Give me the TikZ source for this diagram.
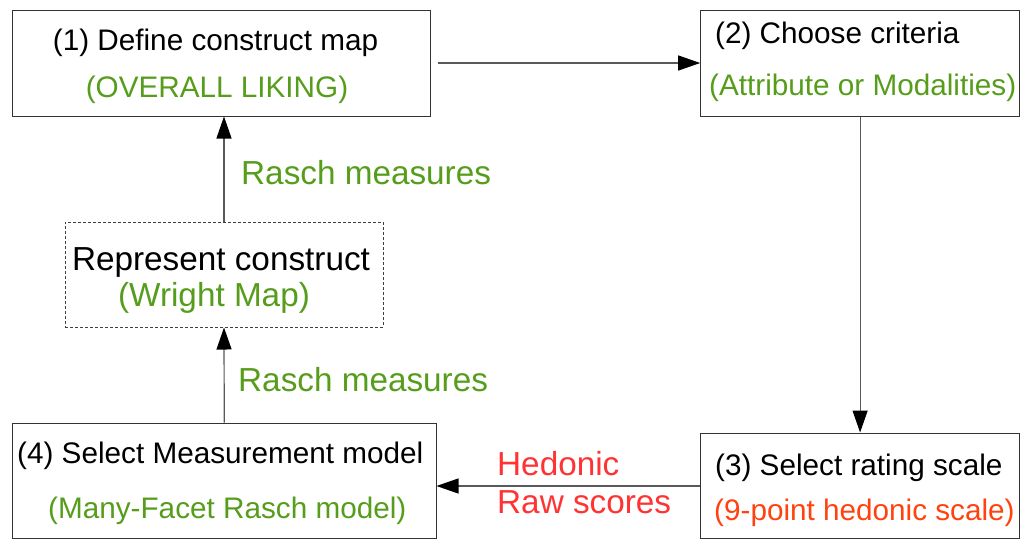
\documentclass[tikz,border=0pt]{standalone}
\usepackage{fontspec}
\setmainfont{Liberation Sans}
\usetikzlibrary{arrows.meta}
\definecolor{lgreen}{HTML}{579D1C}
\definecolor{lred}{HTML}{FF3333}
\definecolor{lorange}{HTML}{FF420E}
\tikzset{
  boxnode/.style={draw=black!80, line width=1pt, inner sep=0pt, rectangle},
  dotbox/.style={draw=black!75, line width=1pt, inner sep=0pt, rectangle, dash pattern=on 3pt off 2pt},
  txt/.style={inner sep=0pt, font=\fontsize{29.7pt}{36pt}\selectfont},
  bigtxt/.style={inner sep=0pt, font=\fontsize{33.3pt}{40pt}\selectfont},
  conn/.style={draw=black!65, line width=1.2pt, -{Triangle[length=22pt,width=15pt,black]}}
}
\begin{document}
\begin{tikzpicture}[x=1pt,y=-1pt]
\useasboundingbox[fill=white] (0,0) rectangle (1020,539);

\node[boxnode, minimum width=417.5pt, minimum height=106pt] (b1) at (221.25,63) {};
\node[boxnode, minimum width=318.8pt, minimum height=106pt] (b2) at (860.1,63) {};
\node[boxnode, minimum width=318.8pt, minimum height=105.5pt] (b3) at (860.1,485.75) {};
\node[boxnode, minimum width=423.5pt, minimum height=115.5pt] (b4) at (224.25,480.75) {};
\node[dotbox, minimum width=318pt, minimum height=105pt] (rep) at (224,274.5) {};

% box texts
\node[txt, anchor=base] (t1a) at (215.5,50) {(1) Define construct map};
\node[txt, anchor=base, text=lgreen] (t1b) at (217,97) {(OVERALL LIKING)};
\node[txt, anchor=base west] (t2a) at (715,43) {(2) Choose criteria};
\node[txt, anchor=base west, text=lgreen] (t2b) at (709,95) {(Attribute or Modalities)};
\node[txt, anchor=base west] (t3a) at (715,475) {(3) Select rating scale};
\node[txt, anchor=base west, text=lorange] (t3b) at (714,520) {(9-point hedonic scale)};
\node[txt, anchor=base west] (t4a) at (17,463) {(4) Select Measurement model};
\node[txt, anchor=base west, text=lgreen] (t4b) at (48,518) {(Many-Facet Rasch model)};
\node[bigtxt, anchor=base] (tra) at (221,270) {Represent construct};
\node[bigtxt, anchor=base, text=lgreen] (trb) at (214,306) {(Wright Map)};

% connector labels
\node[bigtxt, anchor=base west, text=lgreen] (lr1) at (241,184) {Rasch measures};
\node[bigtxt, anchor=base west, text=lgreen] (lr2) at (238,391) {Rasch measures};
\node[bigtxt, anchor=base west, text=lred] (lh1) at (497,475) {Hedonic};
\node[bigtxt, anchor=base west, text=lred] (lh2) at (497,513) {Raw scores};

% connectors
\draw[conn, shorten <=7pt] (b1.east) -- (b2.west);
\draw[conn] (b2.south) -- (b3.north);
\draw[conn] ([yshift=-0.25pt]b3.west) -- ([yshift=-0.25pt]b3.west -| b4.east);
\draw[conn] (b4.north) -- (rep.south);
\draw[conn] (rep.north) -- (rep.north |- b1.south);
\end{tikzpicture}
\end{document}
